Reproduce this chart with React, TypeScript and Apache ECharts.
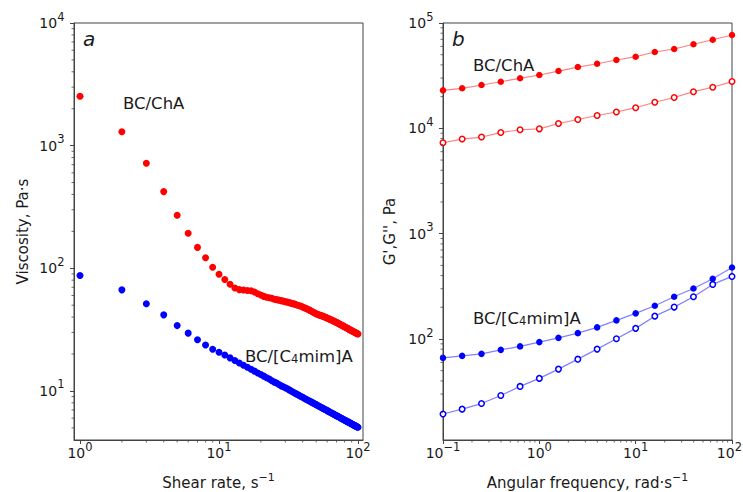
import React, { useEffect, useRef } from "react";
import * as echarts from "echarts";

// ---------- data ----------
const shearRate = [
  1, 2, 3, 4, 5, 6, 7, 8, 9, 10,
  11, 12, 13, 14, 15, 16, 17, 18, 19, 20,
  21, 22, 23, 24, 25, 26, 27, 28, 29, 30,
  31, 32, 33, 34, 35, 36, 37, 38, 39, 40,
  41, 42, 43, 44, 45, 46, 47, 48, 49, 50,
  51, 52, 53, 54, 55, 56, 57, 58, 59, 60,
  61, 62, 63, 64, 65, 66, 67, 68, 69, 70,
  71, 72, 73, 74, 75, 76, 77, 78, 79, 80,
  81, 82, 83, 84, 85, 86, 87, 88, 89, 90,
  91, 92, 93, 94, 95, 96, 97, 98, 99, 100,
];

const viscosityChA = [
  2530, 1300, 719, 422, 271, 193, 148, 122, 102, 89.5,
  81, 74, 69, 67, 66.5, 66, 65.5, 64, 62, 60.5,
  59, 58, 57.5, 57, 56, 55.5, 55, 54.5, 54, 53.5,
  53, 52.5, 52, 51.5, 51, 50.5, 50, 49.5, 49, 48.3,
  47.7, 47.2, 46.6, 46.1, 45.4, 44.8, 44.2, 43.6, 43.1, 42.6,
  42.2, 41.8, 41.5, 41.2, 40.9, 40.6, 40.3, 40.0, 39.6, 39.3,
  39.0, 38.6, 38.3, 38.0, 37.7, 37.4, 37.1, 36.8, 36.5, 36.2,
  35.9, 35.6, 35.3, 35.0, 34.7, 34.5, 34.2, 33.9, 33.6, 33.4,
  33.1, 32.9, 32.6, 32.4, 32.1, 31.9, 31.6, 31.4, 31.2, 31.0,
  30.8, 30.6, 30.4, 30.2, 30.0, 29.8, 29.6, 29.5, 29.3, 29.1,
];

const viscosityC4mim = [
  87.3, 66.7, 51.3, 41.7, 34.1, 29.6, 26.1, 23.7, 21.9, 20.7,
  19.6, 18.6, 17.7, 16.9, 16.2, 15.6, 15.0, 14.5, 14.0, 13.6,
  13.2, 12.8, 12.5, 12.1, 11.8, 11.6, 11.3, 11.0, 10.8, 10.6,
  10.4, 10.2, 10.0, 9.8, 9.62, 9.46, 9.3, 9.15, 9.01, 8.87,
  8.73, 8.6, 8.48, 8.36, 8.25, 8.14, 8.03, 7.93, 7.82, 7.73,
  7.63, 7.54, 7.46, 7.37, 7.29, 7.21, 7.13, 7.05, 6.98, 6.91,
  6.84, 6.77, 6.71, 6.64, 6.58, 6.52, 6.46, 6.4, 6.34, 6.28,
  6.23, 6.18, 6.12, 6.07, 6.02, 5.97, 5.93, 5.88, 5.83, 5.79,
  5.74, 5.7, 5.66, 5.62, 5.58, 5.54, 5.5, 5.46, 5.42, 5.38,
  5.35, 5.31, 5.28, 5.24, 5.21, 5.17, 5.14, 5.11, 5.08, 5.05,
];

const angularFrequency = [0.1, 0.158, 0.251, 0.398, 0.631, 1, 1.58, 2.51, 3.98, 6.31, 10, 15.8, 25.1, 39.8, 63.1, 100];
const storageChA = [22960, 23990, 25780, 27700, 29850, 32080, 34990, 38190, 41060, 44550, 47860, 53060, 56620, 62790, 69400, 76900];
const lossChA = [7300, 7910, 8270, 9120, 9700, 9890, 11110, 12130, 13240, 14290, 15700, 17700, 19630, 22280, 24570, 27800];
const storageC4mim = [66.3, 69.2, 72.3, 78.9, 85.1, 93.5, 102.6, 113.7, 128.9, 150.3, 175.2, 206.7, 251.6, 302, 373, 478];
const lossC4mim = [19.4, 21.6, 24.4, 29.1, 35.5, 42.3, 51.8, 64.4, 80.2, 100.5, 126.2, 164.9, 200.9, 251.6, 330, 393];

// tick values
const shearMajor = [1, 10, 100];
const shearMinor = [2, 3, 4, 5, 6, 7, 8, 9, 20, 30, 40, 50, 60, 70, 80, 90];
const viscMajor = [10, 100, 1000, 10000];
const viscMinor = [5, 6, 7, 8, 9, 20, 30, 40, 50, 60, 70, 80, 90, 200, 300, 400, 500, 600, 700, 800, 900, 2000, 3000, 4000, 5000, 6000, 7000, 8000, 9000];
const freqMajor = [0.1, 1, 10, 100];
const freqMinor = [0.2, 0.3, 0.4, 0.5, 0.6, 0.7, 0.8, 0.9, 2, 3, 4, 5, 6, 7, 8, 9, 20, 30, 40, 50, 60, 70, 80, 90];
const modMajor = [100, 1000, 10000, 100000];
const modMinor = [20, 30, 40, 50, 60, 70, 80, 90, 200, 300, 400, 500, 600, 700, 800, 900, 2000, 3000, 4000, 5000, 6000, 7000, 8000, 9000, 20000, 30000, 40000, 50000, 60000, 70000, 80000, 90000];

// ---------- styling ----------
const FONT = "DejaVu Sans";
const AXIS_COLOR = "#444";
const TEXT_COLOR = "#1a1a1a";
const RED = "#ff0000";
const BLUE = "#0000ff";
const RED_LINE = "#ff8080";
const BLUE_LINE = "#8080ff";
const CANVAS_W = 743;

const tickRich = {
  b: { fontSize: 14, lineHeight: 16, fontFamily: FONT, fill: TEXT_COLOR, color: TEXT_COLOR },
  s: { fontSize: 11.5, lineHeight: 14, fontFamily: FONT, fill: TEXT_COLOR, color: TEXT_COLOR, padding: [0, 0, 13, 0] },
};
const nameRich = {
  b: { fontSize: 15, lineHeight: 17, fontFamily: FONT, fill: TEXT_COLOR },
  s: { fontSize: 11, lineHeight: 13, fontFamily: FONT, fill: TEXT_COLOR, padding: [0, 0, 12, 0] },
};
const labelRich = {
  t: { fontSize: 16.5, lineHeight: 19, fontFamily: FONT, fill: TEXT_COLOR },
  u: { fontSize: 11.5, lineHeight: 13, fontFamily: FONT, fill: TEXT_COLOR, padding: [6, 0, 0, 0] },
};

function powLabel(v: number) {
  const e = Math.log10(v);
  const r = Math.round(e);
  if (Math.abs(e - r) > 1e-6) return "";
  return "{b|10}{s|" + (r < 0 ? "\u2212" + -r : String(r)) + "}";
}

function logAxis(gridIndex: number, min: number, max: number, major: number[], extra: any) {
  return {
    type: "log",
    logBase: 10,
    gridIndex,
    min,
    max,
    axisLine: { show: true, onZero: false, lineStyle: { color: AXIS_COLOR, width: 1 } },
    axisTick: { show: true, inside: false, length: 4, customValues: major, lineStyle: { color: AXIS_COLOR, width: 1 } },
    axisLabel: { show: false },
    splitLine: { show: false },
    minorTick: { show: false },
    nameLocation: "middle",
    ...extra,
  };
}

function minorTicks(dir: "x" | "y", gridIndex: number, values: number[], ref: number) {
  return {
    type: "custom",
    xAxisIndex: gridIndex,
    yAxisIndex: gridIndex,
    silent: true,
    clip: false,
    z: 10,
    data: values.map((v) => (dir === "x" ? [v, ref] : [ref, v])),
    renderItem: (params: any, api: any) => {
      const cs = params.coordSys;
      const p = api.coord([api.value(0), api.value(1)]);
      if (dir === "x") {
        const y0 = cs.y + cs.height;
        return { type: "line", shape: { x1: p[0], y1: y0, x2: p[0], y2: y0 + 2.5 }, style: { stroke: AXIS_COLOR, lineWidth: 0.8 } };
      }
      const x0 = cs.x;
      return { type: "line", shape: { x1: x0, y1: p[1], x2: x0 - 2.5, y2: p[1] }, style: { stroke: AXIS_COLOR, lineWidth: 0.8 } };
    },
  };
}

// major tick labels (10^n with superscript), placed through the axis scales
function tickLabels(dir: "x" | "y", gridIndex: number, values: number[], ref: number) {
  return {
    type: "custom",
    xAxisIndex: gridIndex,
    yAxisIndex: gridIndex,
    silent: true,
    clip: false,
    z: 10,
    data: values.map((v) => (dir === "x" ? [v, ref] : [ref, v])),
    renderItem: (params: any, api: any) => {
      const cs = params.coordSys;
      const p = api.coord([api.value(0), api.value(1)]);
      const v = dir === "x" ? api.value(0) : api.value(1);
      const text = powLabel(v);
      if (dir === "x") {
        const nearEdge = p[0] + 13 > CANVAS_W - 1;
        return {
          type: "text",
          x: nearEdge ? CANVAS_W - 1 : p[0],
          y: cs.y + cs.height + 5,
          style: { text, rich: tickRich, fill: TEXT_COLOR, fontFamily: FONT, fontSize: 14, align: nearEdge ? "right" : "center", verticalAlign: "top" },
        };
      }
      return {
        type: "text",
        x: cs.x - 9.5,
        y: p[1],
        style: { text, rich: tickRich, fill: TEXT_COLOR, fontFamily: FONT, fontSize: 14, align: "right", verticalAlign: "middle" },
      };
    },
  };
}

function zip(xs: number[], ys: number[]) {
  return xs.map((x, i) => [x, ys[i]]);
}

function lineSeries(ys: number[], color: string, lineColor: string, open: boolean) {
  return {
    type: "line",
    xAxisIndex: 1,
    yAxisIndex: 1,
    data: zip(angularFrequency, ys),
    symbol: "circle",
    symbolSize: open ? 5.5 : 6.5,
    showSymbol: true,
    lineStyle: { color: lineColor, width: 1.2 },
    itemStyle: open
      ? { color: "#ffffff", borderColor: color, borderWidth: 1.5 }
      : { color, borderWidth: 0 },
    z: 3,
  };
}

function textEl(x: number, y: number, text: string, style: any, align = "left") {
  return {
    type: "text",
    x,
    y,
    silent: true,
    style: { text, align, verticalAlign: "middle", fill: TEXT_COLOR, ...style },
  };
}

export default function App() {
  const ref = useRef<HTMLDivElement>(null);

  useEffect(() => {
    if (!ref.current) return;
    const chart = echarts.init(ref.current, null, { renderer: "svg" });
    const option: any = {
      animation: false,
      backgroundColor: "#ffffff",
      textStyle: { fontFamily: FONT },
      grid: [
        { left: 74, top: 23, width: 289, height: 417, show: true, borderColor: AXIS_COLOR, borderWidth: 1, backgroundColor: "transparent", outerBoundsMode: "none", containLabel: false },
        { left: 443, top: 23, width: 289, height: 417, show: true, borderColor: AXIS_COLOR, borderWidth: 1, backgroundColor: "transparent", outerBoundsMode: "none", containLabel: false },
      ],
      xAxis: [
        logAxis(0, 0.905, 108.6, shearMajor, {}),
        logAxis(1, 0.1, 100, freqMajor, {}),
      ],
      yAxis: [
        logAxis(0, 3.98, 10000, viscMajor, {
          name: "Viscosity, Pa\u00b7s",
          nameGap: 44,
          nameRotate: 90,
          nameTextStyle: { fontSize: 15, fontFamily: FONT, color: TEXT_COLOR },
        }),
        logAxis(1, 11, 100000, modMajor, {
          name: "G',G'', Pa",
          nameGap: 46,
          nameRotate: 90,
          nameTextStyle: { fontSize: 15, fontFamily: FONT, color: TEXT_COLOR },
        }),
      ],
      series: [
        {
          type: "scatter",
          xAxisIndex: 0,
          yAxisIndex: 0,
          data: zip(shearRate, viscosityChA),
          symbol: "circle",
          symbolSize: 7,
          itemStyle: { color: RED, opacity: 1 },
        },
        {
          type: "scatter",
          xAxisIndex: 0,
          yAxisIndex: 0,
          data: zip(shearRate, viscosityC4mim),
          symbol: "circle",
          symbolSize: 7,
          itemStyle: { color: BLUE, opacity: 1 },
        },
        lineSeries(storageChA, RED, RED_LINE, false),
        lineSeries(lossChA, RED, RED_LINE, true),
        lineSeries(storageC4mim, BLUE, BLUE_LINE, false),
        lineSeries(lossC4mim, BLUE, BLUE_LINE, true),
        minorTicks("x", 0, shearMinor, 10),
        minorTicks("y", 0, viscMinor, 10),
        minorTicks("x", 1, freqMinor, 1000),
        minorTicks("y", 1, modMinor, 1),
        tickLabels("x", 0, shearMajor, 10),
        tickLabels("y", 0, viscMajor, 10),
        tickLabels("x", 1, freqMajor, 1000),
        tickLabels("y", 1, modMajor, 1),
      ],
      graphic: [
        textEl(83, 39, "a", { font: `italic 20px "${FONT}"` }),
        textEl(452, 39, "b", { font: `italic 20px "${FONT}"` }),
        textEl(123, 103, "BC/ChA", { font: `16.5px "${FONT}"` }),
        textEl(473, 65, "BC/ChA", { font: `16.5px "${FONT}"` }),
        textEl(245, 356, "{t|BC/[C}{u|4}{t|mim]A}", { rich: labelRich, font: `16.5px "${FONT}"` }),
        textEl(473, 318, "{t|BC/[C}{u|4}{t|mim]A}", { rich: labelRich, font: `16.5px "${FONT}"` }),
        textEl(218.5, 483, "{b|Shear rate, s}{s|\u22121}", { rich: nameRich, font: `15px "${FONT}"` }, "center"),
        textEl(587.5, 483, "{b|Angular frequency, rad\u00b7s}{s|\u22121}", { rich: nameRich, font: `15px "${FONT}"` }, "center"),
      ],
    };
    chart.setOption(option);
    return () => chart.dispose();
  }, []);

  return (
    <div
      ref={ref}
      style={{ position: "absolute", left: 0, top: 0, width: 743, height: 492, background: "#fff" }}
    />
  );
}
